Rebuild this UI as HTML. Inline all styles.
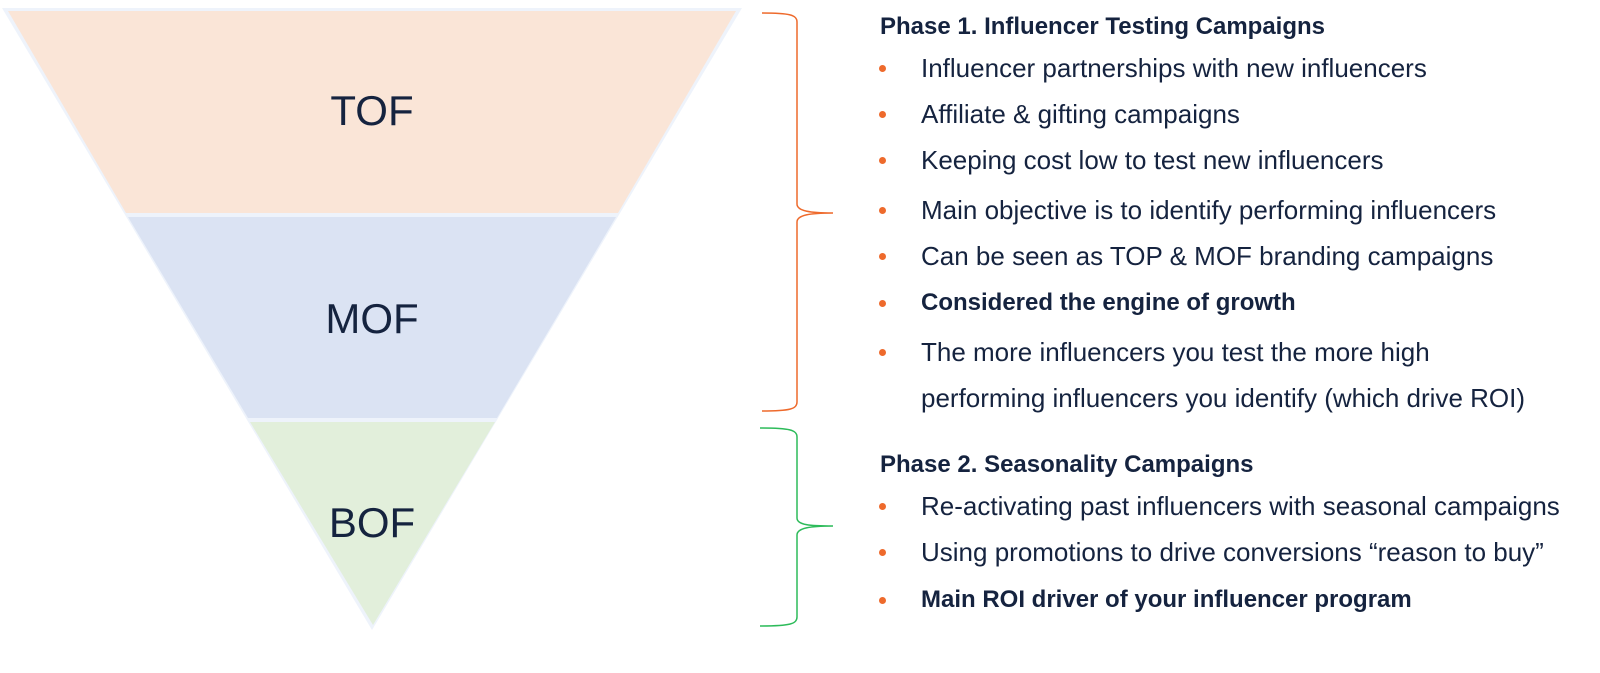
<!DOCTYPE html>
<html><head><style>
body{margin:0;width:1600px;height:673px;background:#fff;position:relative;font-family:"Liberation Sans",sans-serif;overflow:hidden}
.t{position:absolute;white-space:nowrap;color:#15233f;font-size:26px;line-height:30px}
.b{font-weight:bold}
.d{position:absolute;width:7px;height:7px;border-radius:50%;background:#ee6a2c}
</style></head><body>
<svg width="1600" height="673" style="position:absolute;left:0;top:0">
<polygon points="2,8 742,8 372,630" fill="#eef3fb"/>
<polygon points="8,11 736,11 618,213 126,213" fill="#fae5d7"/>
<polygon points="128,217 616,217 497,418 248,418" fill="#dbe3f3"/>
<polygon points="250,422 495,422 373,625" fill="#e2efdb"/>
<text x="372" y="125" font-size="42" text-anchor="middle" fill="#15233f" font-family="Liberation Sans">TOF</text>
<text x="372" y="333" font-size="42" text-anchor="middle" fill="#15233f" font-family="Liberation Sans">MOF</text>
<text x="372" y="537" font-size="42" text-anchor="middle" fill="#15233f" font-family="Liberation Sans">BOF</text>
<path d="M762,13 C790,13 797,15 797,22 L797,204 C797,211 810,213 833,213 C810,213 797,215 797,222 L797,402 C797,409 790,411 762,411" fill="none" stroke="#ee6a2c" stroke-width="1.5"/>
<path d="M760,428 C790,428 797,430 797,437 L797,518 C797,525 810,526 833,526 C810,526 797,528 797,535 L797,617 C797,624 790,626 760,626" fill="none" stroke="#2dbb5a" stroke-width="1.5"/>
</svg>
<div class="t b" style="left:880px;top:12px;font-size:24px">Phase 1. Influencer Testing Campaigns</div>
<div class="d" style="left:879px;top:65px"></div><div class="t" style="left:921px;top:53px">Influencer partnerships with new influencers</div>
<div class="d" style="left:879px;top:111px"></div><div class="t" style="left:921px;top:99px">Affiliate &amp; gifting campaigns</div>
<div class="d" style="left:879px;top:157px"></div><div class="t" style="left:921px;top:145px">Keeping cost low to test new influencers</div>
<div class="d" style="left:879px;top:207px"></div><div class="t" style="left:921px;top:195px">Main objective is to identify performing influencers</div>
<div class="d" style="left:879px;top:253px"></div><div class="t" style="left:921px;top:241px">Can be seen as TOP &amp; MOF branding campaigns</div>
<div class="d" style="left:879px;top:300px"></div><div class="t b" style="left:921px;top:288px;font-size:24px">Considered the engine of growth</div>
<div class="d" style="left:879px;top:349px"></div><div class="t" style="left:921px;top:337px">The more influencers you test the more high</div>
<div class="t" style="left:921px;top:383px">performing influencers you identify (which drive ROI)</div>
<div class="t b" style="left:880px;top:450px;font-size:24px">Phase 2. Seasonality Campaigns</div>
<div class="d" style="left:879px;top:503px"></div><div class="t" style="left:921px;top:491px">Re-activating past influencers with seasonal campaigns</div>
<div class="d" style="left:879px;top:549px"></div><div class="t" style="left:921px;top:537px">Using promotions to drive conversions “reason to buy”</div>
<div class="d" style="left:879px;top:597px"></div><div class="t b" style="left:921px;top:585px;font-size:24px">Main ROI driver of your influencer program</div>
</body></html>
